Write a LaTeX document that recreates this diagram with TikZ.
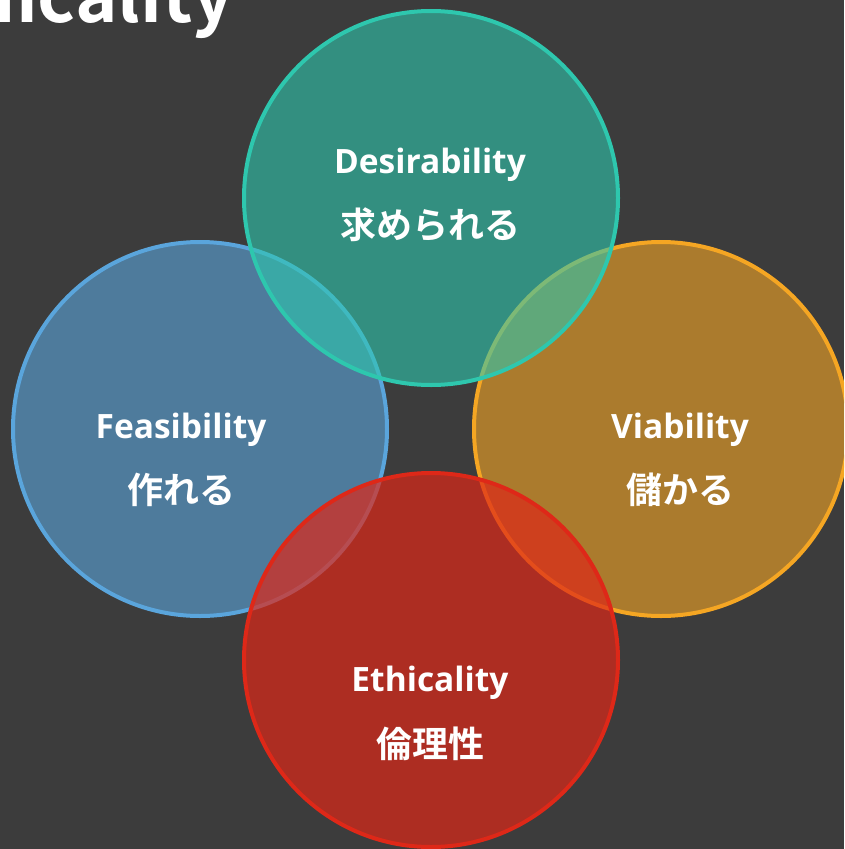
\documentclass[tikz,border=0pt]{standalone}
\usepackage{fontspec}
\setmainfont{Open Sans}
\newfontfamily\jpfont{Noto Sans CJK JP}[BoldFont=Noto Sans CJK JP Bold]
\definecolor{bgc}{HTML}{3C3C3C}
\definecolor{desc}{HTML}{2EC7AE}
\definecolor{feac}{HTML}{5AA5DC}
\definecolor{viac}{HTML}{F5A623}
\definecolor{ethc}{HTML}{DE2818}
\tikzset{
  venn/.style={draw=#1, fill=#1, fill opacity=0.6, draw opacity=1, line width=4pt},
  entxt/.style={text=white, font=\fontsize{33.5}{36}\selectfont\bfseries, inner sep=0pt},
  jptxt/.style={text=white, font=\fontsize{36}{38}\selectfont\jpfont\bfseries, inner sep=0pt},
}
\begin{document}
\begin{tikzpicture}[x=1pt,y=-1pt]
\fill[bgc] (0,0) rectangle (844,849);
\useasboundingbox (0,0) rectangle (844,849);
\clip (0,0) rectangle (844,849);
\node[anchor=base east, text=white, inner sep=0pt, font=\fontsize{72}{76}\selectfont\jpfont\bfseries] (title) at (234,22) {Ethicality};
\draw[venn=feac] (200,429) circle[radius=187];
\draw[venn=viac] (661,429) circle[radius=187];
\draw[venn=desc] (431,198) circle[radius=187];
\draw[venn=ethc, fill opacity=0.7] (431,660) circle[radius=187];
\node[entxt] (d1) at (430,165) {Desirability};
\node[jptxt] (d2) at (430,225) {求められる};
\node[entxt] (f1) at (181,430) {Feasibility};
\node[jptxt] (f2) at (181,490) {作れる};
\node[entxt] (v1) at (680,430) {Viability};
\node[jptxt] (v2) at (680,490) {儲かる};
\node[entxt] (e1) at (430,683) {Ethicality};
\node[jptxt] (e2) at (430,744) {倫理性};
\end{tikzpicture}
\end{document}
